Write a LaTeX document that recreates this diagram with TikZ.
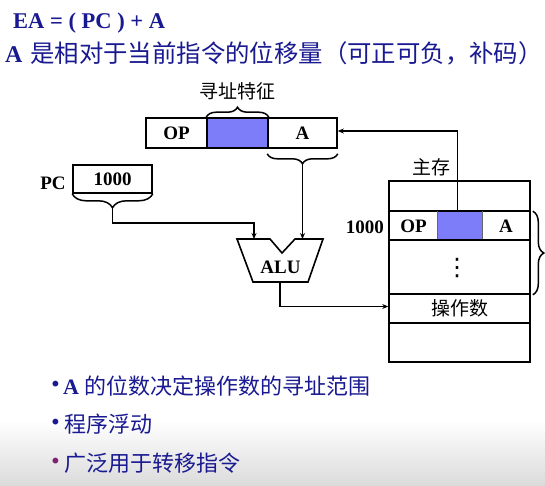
\documentclass[tikz,border=0pt]{standalone}
\usepackage{fontspec}
\setmainfont{Liberation Serif}
\newfontfamily\cjk{Noto Sans CJK SC}
\newfontfamily\dejavu{DejaVu Sans}
\usetikzlibrary{decorations.pathreplacing,arrows.meta}
\definecolor{navy}{RGB}{25,25,145}
\definecolor{cellblue}{RGB}{125,125,250}
\definecolor{bulpurple}{RGB}{125,35,110}
\begin{document}
\begin{tikzpicture}[x=1pt,y=-1pt]
\tikzset{
  cell/.style={draw, line width=1.6pt, inner sep=0pt, font=\fontsize{19}{19}\selectfont\bfseries},
  lbl/.style={inner sep=0pt, font=\fontsize{19}{19}\selectfont\bfseries},
  cjklbl/.style={inner sep=0pt, font=\fontsize{19}{19}\selectfont\cjk},
  arr/.style={line width=1.3pt, -{Stealth[length=6pt,width=5pt]}},
  brc/.style={decorate, decoration={brace, amplitude=#1}, line width=1.5pt},
  txt/.style={inner sep=0pt, anchor=base west, text=navy},
  bul/.style={inner sep=0pt, font=\fontsize{20}{20}\selectfont\dejavu},
}
% background
\fill[white] (0,0) rectangle (545,485);
\shade[top color=white, bottom color=black!14] (0,420) rectangle (545,485);
\useasboundingbox (0,0) rectangle (545,485);

% headings
\node[txt, font=\fontsize{22.5}{22.5}\selectfont\bfseries] (title) at (13,28) {EA = ( PC ) + A};
\node[txt, font=\fontsize{24}{24}\selectfont\bfseries] (hA) at (5,62) {A};
\node[txt, font=\fontsize{24.4}{24.4}\selectfont\cjk] (hline) at (30,62) {是相对于当前指令的位移量（可正可负，补码）};

% instruction register
\node[cell, minimum width=61pt, minimum height=30pt] (op) at (176.5,133) {OP};
\node[cell, fill=cellblue, minimum width=61pt, minimum height=30pt] (ad) at (237.5,133) {};
\node[cell, minimum width=69pt, minimum height=30pt] (a) at (302.5,133) {A};
\draw[brc=10pt] (ad.north west) -- (ad.north east);
\node[cjklbl] (feat) at (237,91) {寻址特征};
\draw[brc=10pt] ([yshift=-5pt]a.south east) -- ([yshift=-5pt]a.south west);
\coordinate (atip) at (302.5,163);

% PC
\node[lbl] (pclbl) at (53,183) {PC};
\node[cell, minimum width=79pt, minimum height=28pt] (pc) at (112.5,179) {1000};
\draw[brc=14pt] (pc.south east) -- (pc.south west);
\coordinate (pctip) at (112.5,207);

% ALU
\draw[line width=1.6pt] (237,239) -- (270,239) -- (282,253) -- (295,239) -- (323,239)
   -- (308,282) -- (253,282) -- cycle;
\node[lbl] (alu) at (280.5,267) {ALU};
\coordinate (in1) at (254,239);
\coordinate (in2) at (302.5,239);
\coordinate (out) at (280,282);

% main memory
\node[cjklbl] (mem) at (431,167) {主存};
\node[cell, minimum width=141pt, minimum height=30pt] (m0) at (459.5,196) {};
\node[fill=cellblue, inner sep=0pt, minimum width=44pt, minimum height=29pt] (mad) at (460,225.5) {};
\node[cell, minimum width=141pt, minimum height=29pt] (m1) at (459.5,225.5) {};
\draw[black!60, line width=0.9pt] (mad.north west) -- (mad.south west)
   (mad.north east) -- (mad.south east);
\node[lbl] (mop) at (413.5,226) {OP};
\node[lbl] (ma) at (506,226) {A};
\node[cell, minimum width=141pt, minimum height=54pt] (m2) at (459.5,267) {};
\node[inner sep=0pt, font=\fontsize{24}{24}\selectfont\dejavu] (dots) at (457,268) {⋮};
\node[cell, minimum width=141pt, minimum height=29pt] (m3) at (459.5,308.5) {};
\node[cjklbl] (opnd) at (459.5,308.5) {操作数};
\node[cell, minimum width=141pt, minimum height=39pt] (m4) at (459.5,342.5) {};
\node[lbl, anchor=east] (addr) at (384,227) {1000};
\draw[brc=11pt] ([xshift=2pt,yshift=-1pt]m1.north east) -- ([xshift=2pt]m2.south east);

% connectors
\draw[arr] (pctip) -- ++(0,16) -| (in1);
\draw[arr] (atip) -- (in2);
\draw[arr] (out) |- ([yshift=2pt]m3.west);
\draw[arr] ([xshift=-2.5pt]mad.north) |- ([yshift=2pt]a.east);

% bullets
\node[bul, text=navy] (b1) at (55.5,386) {•};
\node[txt, font=\fontsize{22}{22}\selectfont\bfseries] (t1a) at (63,394) {A};
\node[txt, font=\fontsize{22}{22}\selectfont\cjk] (t1) at (84,394) {的位数决定操作数的寻址范围};
\node[bul, text=navy] (b2) at (55.5,424) {•};
\node[txt, font=\fontsize{22}{22}\selectfont\cjk] (t2) at (64,432) {程序浮动};
\node[bul, text=bulpurple] (b3) at (55.5,463) {•};
\node[txt, font=\fontsize{22}{22}\selectfont\cjk] (t3) at (64,471) {广泛用于转移指令};
\end{tikzpicture}
\end{document}
